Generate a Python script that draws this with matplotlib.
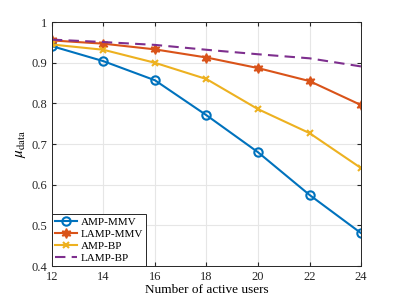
import numpy as np
import matplotlib.pyplot as plt

plt.rcParams['font.family'] = ['Liberation Serif', 'DejaVu Serif']
plt.rcParams['mathtext.fontset'] = 'stix'

# Data
users = [12, 14, 16, 18, 20, 22, 24]
amp_mmv = [0.941, 0.904, 0.857, 0.771, 0.680, 0.575, 0.481]
lamp_mmv = [0.955, 0.947, 0.933, 0.913, 0.887, 0.855, 0.796]
amp_bp = [0.945, 0.932, 0.900, 0.860, 0.786, 0.727, 0.641]
lamp_bp = [0.957, 0.951, 0.944, 0.932, 0.921, 0.911, 0.891]

fig = plt.figure(figsize=(3.99, 2.99), dpi=100)
ax = fig.add_axes([0.130, 0.110, 0.775, 0.816])

ax.plot(users, amp_mmv, color='#0072BD', lw=1.5, marker='o', ms=6,
        mfc='none', mew=1.5, label='AMP-MMV')
ax.plot(users, lamp_mmv, color='#D95319', lw=1.5, marker=(6, 1, 0), ms=7,
        mfc='#D95319', mew=1.0, label='LAMP-MMV')
ax.plot(users, amp_bp, color='#EDB120', lw=1.5, marker='x', ms=5,
        mew=1.5, label='AMP-BP')
ax.plot(users, lamp_bp, color='#7E2F8E', lw=1.5, ls=(0, (5, 3)),
        label='LAMP-BP')

ax.set_xlim(12, 24)
ax.set_ylim(0.4, 1.0)
ax.set_xticks(np.arange(12, 25, 2))
ax.set_yticks(np.arange(0.4, 1.01, 0.1))
ax.set_yticklabels(['0.4', '0.5', '0.6', '0.7', '0.8', '0.9', '1'])
ax.grid(True, color='#e6e6e6', lw=0.8)
ax.set_axisbelow(True)
ax.tick_params(direction='in', length=3, labelsize=9, colors='#262626',
               top=True, right=True)
for s in ax.spines.values():
    s.set_color('#262626')
    s.set_linewidth(0.7)

ax.set_xlabel('Number of active users', fontsize=9.5, labelpad=1)
ax.set_ylabel(r'$\mu_{\mathrm{data}}$', fontsize=11, labelpad=2)

leg = ax.legend(loc='lower left', fontsize=8, borderaxespad=0,
                handlelength=2.0, handletextpad=0.3, borderpad=0.3,
                labelspacing=0.2, fancybox=False, framealpha=1,
                edgecolor='#262626')
leg.get_frame().set_linewidth(0.7)

fig.savefig('out.png', dpi=100)
